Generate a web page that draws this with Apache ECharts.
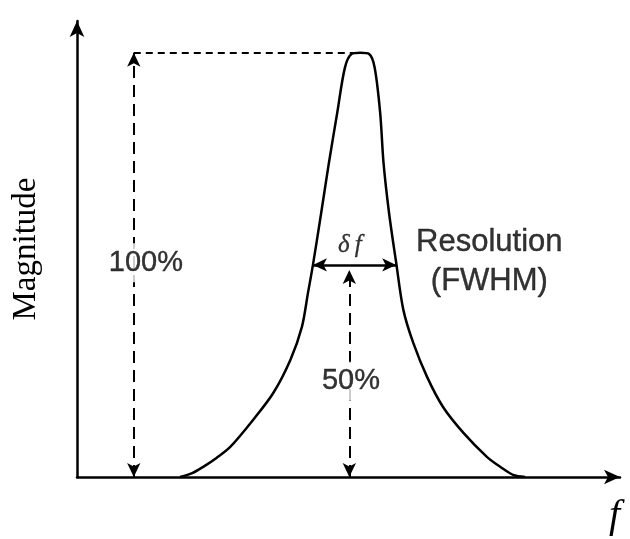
<!DOCTYPE html>
<html>
<head>
<meta charset="utf-8">
<title>Resolution (FWHM)</title>
<script src="https://cdn.jsdelivr.net/npm/echarts@6/dist/echarts.min.js"></script>
<style>
  html, body { margin: 0; padding: 0; background: #ffffff; }
  #chart { width: 630px; height: 539px; }
</style>
</head>
<body>
<div id="chart"></div>
<script>
// Spectral line profile: frequency (arbitrary units) and magnitude (% of peak)
const freq = [18.7, 20.9, 22.9, 25.3, 27.8, 31.9, 35.6, 38.7, 40.8, 41.9, 42.8, 44.3, 45.7, 47.2, 48.6, 49.8, 51.4, 53.0, 54.0, 55.0, 55.6, 56.6, 57.9, 59.2, 61.0, 63.5, 66.4, 70.1, 74.4, 77.0, 79.1, 81.3];
const magnitude = [0, 0.9, 2.4, 4.5, 7.1, 13.4, 19.8, 27.6, 35.4, 43.4, 50.0, 62.3, 74.1, 85.8, 96.5, 99.7, 100, 99.7, 96.5, 85.8, 74.1, 62.3, 50.5, 39.4, 31.6, 23.6, 16.5, 10.4, 4.7, 2.2, 0.5, 0];

// Annotation levels and positions
const peakLevel = 100;
const halfLevel = 50;
const fullArrowFreq = 10.3;
const halfArrowFreq = 49.4;
const halfArrowTop = 48.8;
const fwhmLeft = 42.8;
const fwhmRight = 57.9;
const peakFreq = 50.1;

// Text annotations [freq, magnitude, text]
const annotations = [
  [12.5, 50.5, '100%'],
  [49.7, 22.6, '50%'],
  [49.5, 54.5, 'δ\u2009f'],
  [74.8, 55.2, 'Resolution'],
  [74.8, 46.2, '(FWHM)']
];

const sans = '"Liberation Sans", Arial, Helvetica, sans-serif';
const serif = '"Liberation Serif", "Times New Roman", serif';

const sansText = { fontFamily: sans, textBorderColor: '#000', textBorderWidth: 0.4 };
const labelStyles = {
  '100%': Object.assign({ fontSize: 29, backgroundColor: '#ffffff', padding: [5, 2] }, sansText),
  '50%': Object.assign({ fontSize: 29, backgroundColor: '#ffffff', padding: [5, 2] }, sansText),
  'δ\u2009f': { fontFamily: serif, fontSize: 25, fontStyle: 'italic', textBorderColor: '#000', textBorderWidth: 0.3 },
  'Resolution': Object.assign({ fontSize: 31 }, sansText),
  '(FWHM)': Object.assign({ fontSize: 31 }, sansText)
};

const chart = echarts.init(document.getElementById('chart'), null, { renderer: 'canvas' });

const dashedArrow = { color: '#000', width: 2, type: [12, 7] };

chart.setOption({
  backgroundColor: '#ffffff',
  animation: false,
  grid: { left: 77, right: 10, top: 21, bottom: 62 },
  xAxis: {
    type: 'value',
    min: 0,
    max: 98.5,
    axisLine: { show: true, onZero: false, symbol: ['none', 'arrow'], symbolSize: [11, 16], lineStyle: { color: '#000', width: 2.5 } },
    axisTick: { show: false },
    axisLabel: { show: false },
    splitLine: { show: false }
  },
  yAxis: {
    type: 'value',
    min: 0,
    max: 107.5,
    name: 'Magnitude',
    nameLocation: 'middle',
    nameRotate: 90,
    nameGap: 34,
    nameTextStyle: { fontFamily: serif, fontSize: 33, color: '#000' },
    axisLine: { show: true, onZero: false, symbol: ['none', 'arrow'], symbolSize: [11, 16], lineStyle: { color: '#000', width: 2.5 } },
    axisTick: { show: false },
    axisLabel: { show: false },
    splitLine: { show: false }
  },
  graphic: [
    {
      type: 'text',
      left: 609,
      top: 496,
      style: { text: 'f', font: 'italic 40px ' + serif, fill: '#000' }
    }
  ],
  series: [
    {
      type: 'line',
      name: 'profile',
      data: freq.map((f, i) => [f, magnitude[i]]),
      smooth: 0.3,
      showSymbol: false,
      lineStyle: { color: '#000', width: 2.5 },
      z: 3,
      markLine: {
        silent: true,
        animation: false,
        label: { show: false },
        emphasis: { disabled: true },
        data: [
          // 100% height arrow
          [
            { coord: [fullArrowFreq, 0], symbol: 'arrow', symbolSize: [10, 14], lineStyle: dashedArrow },
            { coord: [fullArrowFreq, peakLevel], symbol: 'arrow', symbolSize: [10, 14] }
          ],
          // dotted peak reference line
          [
            { coord: [fullArrowFreq, peakLevel], symbol: 'none', lineStyle: { color: '#000', width: 2, type: [7, 5] } },
            { coord: [peakFreq, peakLevel], symbol: 'none' }
          ],
          // 50% height arrow
          [
            { coord: [halfArrowFreq, 0], symbol: 'arrow', symbolSize: [10, 14], lineStyle: dashedArrow },
            { coord: [halfArrowFreq, halfArrowTop], symbol: 'arrow', symbolSize: [10, 14] }
          ],
          // FWHM width arrow
          [
            { coord: [fwhmLeft, halfLevel], symbol: 'arrow', symbolSize: [10, 14], lineStyle: { color: '#000', width: 2.5, type: 'solid' } },
            { coord: [fwhmRight, halfLevel], symbol: 'arrow', symbolSize: [10, 14] }
          ]
        ]
      }
    },
    {
      type: 'scatter',
      name: 'labels',
      symbolSize: 0,
      silent: true,
      z: 5,
      data: annotations.map(a => ({
        value: [a[0], a[1]],
        name: a[2],
        label: Object.assign({
          show: true,
          position: 'inside',
          color: '#000000',
          formatter: '{b}'
        }, labelStyles[a[2]])
      }))
    }
  ]
});
</script>
</body>
</html>
